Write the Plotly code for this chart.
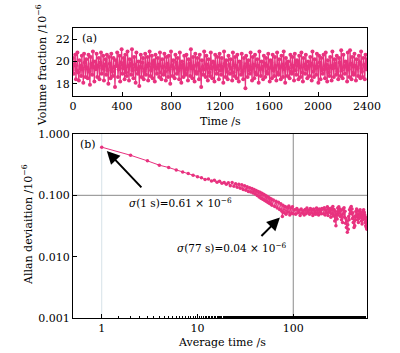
import numpy as np
import plotly.graph_objects as go

# ---------------- data ----------------
# (a) volume fraction vs time, 10^-6
vol_fraction = [
    20.3,18.9,19.7,20.6,18.4,19.2,20.8,19.0,18.3,20.1,19.6,18.7,20.5,19.3,18.1,20.7,19.9,18.6,20.2,19.4,
    18.5,20.6,19.1,17.9,20.4,19.8,18.8,20.9,19.5,18.2,20.0,19.3,20.7,18.6,19.6,20.3,18.4,19.9,20.8,18.9,
    19.4,20.5,18.3,19.7,20.2,18.8,20.6,19.2,18.0,20.4,19.8,18.5,20.7,19.1,18.7,20.3,19.5,17.7,20.1,19.6,
    20.8,18.6,19.3,20.5,18.2,19.9,21.1,18.9,19.4,20.3,18.4,20.6,19.0,18.7,20.9,19.6,18.3,20.2,19.8,18.8,
    21.1,19.2,18.5,20.4,19.7,18.1,20.8,19.3,18.9,20.0,17.8,19.5,20.6,18.6,19.9,20.3,18.4,19.1,20.7,18.8,
    19.6,20.4,18.3,19.8,20.9,18.7,19.2,20.5,18.5,19.9,20.1,18.2,20.6,19.4,18.9,20.3,19.7,18.6,20.8,19.0,
    18.4,20.2,19.5,18.8,20.7,19.1,18.3,20.4,19.8,18.6,20.5,19.3,18.0,20.9,19.6,18.7,20.1,19.4,18.5,20.6,
    19.9,18.9,20.3,19.2,18.4,20.8,19.5,18.1,20.0,19.7,18.6,20.5,19.0,18.8,20.6,19.3,18.3,20.2,19.8,18.7,
    21.1,19.4,18.5,20.4,19.6,18.2,20.7,19.1,18.9,20.3,19.8,18.4,20.6,19.2,17.7,20.1,19.5,18.8,20.9,19.3,
    18.6,20.5,19.7,18.3,20.2,19.0,18.7,20.8,19.4,18.5,20.0,19.9,18.2,20.6,19.3,18.9,20.4,19.6,18.4,20.7,
    19.2,18.8,20.3,19.5,18.1,20.9,19.8,18.6,20.1,19.1,18.4,20.5,19.7,18.9,20.2,19.4,18.3,20.8,19.0,18.7,
    20.4,19.6,18.5,20.6,19.3,18.2,20.0,19.9,18.8,20.7,19.1,18.4,20.3,19.5,17.6,20.5,19.8,18.6,20.1,19.2,
    18.9,20.8,19.4,18.3,20.4,19.7,18.5,20.6,19.0,18.8,20.2,19.6,18.1,20.9,19.3,18.7,20.0,19.5,18.4,20.5,
    19.8,18.6,20.3,19.1,18.9,20.7,19.4,18.2,20.1,19.9,18.5,20.6,19.2,18.7,20.4,19.6,18.3,20.8,19.0,18.8,
    20.2,19.5,18.4,20.5,19.7,18.6,20.9,19.3,18.1,20.3,19.8,18.7,20.0,19.4,18.5,20.6,19.1,18.9,20.4,19.6,
    18.3,20.7,19.2,18.8,20.1,19.9,18.4,20.5,19.5,18.6,20.8,19.0,18.2,20.3,19.7,18.9,20.6,19.3,18.5,20.0,
    19.6,18.7,20.4,19.8,18.3,20.9,19.1,18.6,20.2,19.4,18.8,20.7,19.5,18.1,20.5,19.9,18.4,20.3,19.2,18.9,
    20.6,19.3,18.5,20.8,19.7,18.2,20.1,19.0,18.7,20.4,19.6,18.3,20.9,19.4,18.6,20.2,19.8,18.8,20.5,19.1,
    18.4,20.3,19.9,18.7,21.0,19.2,18.5,20.6,19.5,18.9,20.0,19.7,18.2,20.8,19.3,18.6,21.0,19.8,18.4,20.4,
    19.0,18.8,20.7,19.6,18.3,20.2,19.4,18.7,20.5,19.9,18.5,20.9,19.1,18.6,20.3,19.7,18.4,20.6,19.3,20.2,
]
time_s = list(np.linspace(0, 2400, len(vol_fraction)))

# (b) Allan deviation vs averaging time, 10^-6
tau = (list(range(1, 61)) + list(range(62, 77, 2)) + [77] + list(range(78, 101, 2))
       + list(range(103, 200, 3)) + list(range(203, 600, 4)))
allan = [
    0.61,0.45,0.365,0.31,0.284,0.26,0.241,0.228,0.213,0.20,
    0.193,0.181,0.184,0.172,0.176,0.163,0.170,0.158,0.162,0.151,
    0.160,0.143,0.162,0.140,0.155,0.135,0.152,0.130,0.149,0.124,0.143,0.121,0.138,0.116,0.133,0.113,0.129,0.109,0.124,0.105,
    0.120,0.099,0.115,0.094,0.112,0.090,0.108,0.086,0.104,0.083,0.100,0.080,0.097,0.077,0.093,0.074,0.090,0.072,0.087,0.069,
    0.084,0.066,0.080,0.062,0.077,0.059,0.073,0.055,
    0.045,
    0.069,0.052,0.066,0.049,0.064,0.053,0.067,0.048,0.062,0.051,0.065,0.050,
    0.058,0.049,0.061,0.052,0.057,0.047,0.060,0.051,0.056,0.048,0.059,0.050,0.062,0.053,0.057,0.049,0.061,0.052,0.058,0.047,
    0.060,0.050,0.056,0.049,0.062,0.051,0.058,0.048,0.060,0.053,0.057,0.050,0.061,
    0.060,0.050,0.063,0.048,0.058,0.052,0.065,0.047,0.061,0.053,0.058,0.044,0.062,0.050,
    0.066,0.046,0.059,0.038,0.055,0.032,0.050,0.041,0.062,0.048,0.065,0.052,0.060,0.045,0.057,0.040,
    0.048,0.036,0.060,0.050,0.063,0.044,0.055,0.035,0.042,0.030,0.038,0.025,0.033,0.028,0.045,0.040,0.058,0.050,0.062,0.054,
    0.066,0.050,0.060,0.042,0.052,0.036,0.044,0.030,0.038,0.032,0.046,0.040,0.055,0.045,0.060,0.048,0.056,0.040,0.050,0.036,
    0.046,0.042,0.055,0.046,0.058,
    0.050,0.044,0.052,0.038,0.048,0.034,0.045,0.040,0.055,0.047,0.058,0.050,0.053,0.042,0.048,0.036,0.044,0.032,0.040,0.030,
    0.036,0.028,0.034,0.031,0.030,
]
n = min(len(tau), len(allan))
tau, allan = tau[:n], allan[:n]

top_yticks = [18, 20, 22]
bot_xticks = [1, 10, 100]
bot_yticks = [0.001, 0.01, 0.1, 1.0]

# ---------------- style ----------------
PINK = "#E8327F"
FONT = "DejaVu Serif"
FS = 11

fig = go.Figure()

# reference lines in panel (b)
fig.add_trace(go.Scatter(x=[1, 1], y=[0.001, 1], mode="lines", xaxis="x2", yaxis="y2",
                         line=dict(color="#d6e2e8", width=1), hoverinfo="skip", showlegend=False))
fig.add_trace(go.Scatter(x=[100, 100], y=[0.001, 1], mode="lines", xaxis="x2", yaxis="y2",
                         line=dict(color="#8a8a8a", width=1), hoverinfo="skip", showlegend=False))
fig.add_trace(go.Scatter(x=[0.5, 600], y=[0.1, 0.1], mode="lines", xaxis="x2", yaxis="y2",
                         line=dict(color="#8a8a8a", width=1), hoverinfo="skip", showlegend=False))

fig.add_trace(go.Scatter(x=time_s, y=vol_fraction, mode="lines+markers",
                         line=dict(color=PINK, width=1.2), marker=dict(color=PINK, size=4),
                         xaxis="x", yaxis="y", showlegend=False))
fig.add_trace(go.Scatter(x=tau, y=allan, mode="lines+markers",
                         line=dict(color=PINK, width=1), marker=dict(color=PINK, size=3.5),
                         xaxis="x2", yaxis="y2", showlegend=False))

axis_common = dict(showline=True, linecolor="black", linewidth=1, mirror=True,
                   ticks="inside", ticklen=4, tickcolor="black", showgrid=False, zeroline=False,
                   automargin=False,
                   tickfont=dict(family=FONT, size=FS, color="black"))

fig.update_layout(
    width=400, height=353,
    margin=dict(l=73, r=33, t=28, b=35),
    paper_bgcolor="white", plot_bgcolor="white",
    font=dict(family=FONT, size=FS, color="black"),
    xaxis=dict(domain=[0, 1], anchor="y", range=[0, 2400],
               tickvals=[0, 400, 800, 1200, 1600, 2000, 2400], **axis_common),
    yaxis=dict(domain=[0.7655, 1], anchor="x", range=[16.9, 23.0],
               tickvals=top_yticks, **axis_common),
    xaxis2=dict(domain=[0, 1], anchor="y2", type="log", range=[-0.3, 2.77],
                tickvals=bot_xticks, ticktext=["1", "10", "100"],
                minor=dict(ticks="inside", ticklen=2, tickcolor="black", showgrid=False),
                **axis_common),
    yaxis2=dict(domain=[0, 0.6345], anchor="x2", type="log", range=[-3, 0],
                tickvals=bot_yticks, ticktext=["0.001", "0.010", "0.100", "1.000"],
                **axis_common),
)

title_font = dict(family=FONT, size=11, color="black")
note_font = dict(family=FONT, size=10.5, color="black")
C = dict(xref="paper", yref="paper", showarrow=False, xanchor="center", yanchor="middle")
# axis titles & panel labels
fig.add_annotation(text="Volume fraction /10<sup>−6</sup>", x=-0.1088, y=0.872, textangle=-90,
                   font=title_font, **C)
fig.add_annotation(text="Allan deviaition /10<sup>−6</sup>", x=-0.153, y=0.3207, textangle=-90,
                   font=title_font, **C)
fig.add_annotation(text="Time /s", x=0.5, y=0.6759, font=title_font, **C)
fig.add_annotation(text="Average time /s", x=0.507, y=-0.0828, font=title_font, **C)
fig.add_annotation(text="(a)", x=0.0578, y=0.9655, font=title_font, **C)
fig.add_annotation(text="(b)", x=0.051, y=0.5966, font=title_font, **C)
fig.add_annotation(text="<i>σ</i>(1 s)=0.61 × 10<sup>−6</sup>", x=0.364, y=0.40, font=note_font, **C)
fig.add_annotation(text="<i>σ</i>(77 s)=0.04 × 10<sup>−6</sup>", x=0.541, y=0.2448, font=note_font, **C)

# arrows
fig.add_annotation(x=np.log10(1.13), y=np.log10(0.53), xref="x2", yref="y2", text="",
                   showarrow=True, arrowhead=2, arrowsize=1.3, arrowwidth=2, arrowcolor="black",
                   ax=36, ay=38)
fig.add_annotation(x=np.log10(72.6), y=-1.361, xref="x2", yref="y2", text="",
                   showarrow=True, arrowhead=2, arrowsize=1.3, arrowwidth=2, arrowcolor="black",
                   ax=-20, ay=20)

fig.write_html("out.html", config={"displayModeBar": False},
               post_script="document.body.style.margin='0';document.body.style.overflow='hidden';")
